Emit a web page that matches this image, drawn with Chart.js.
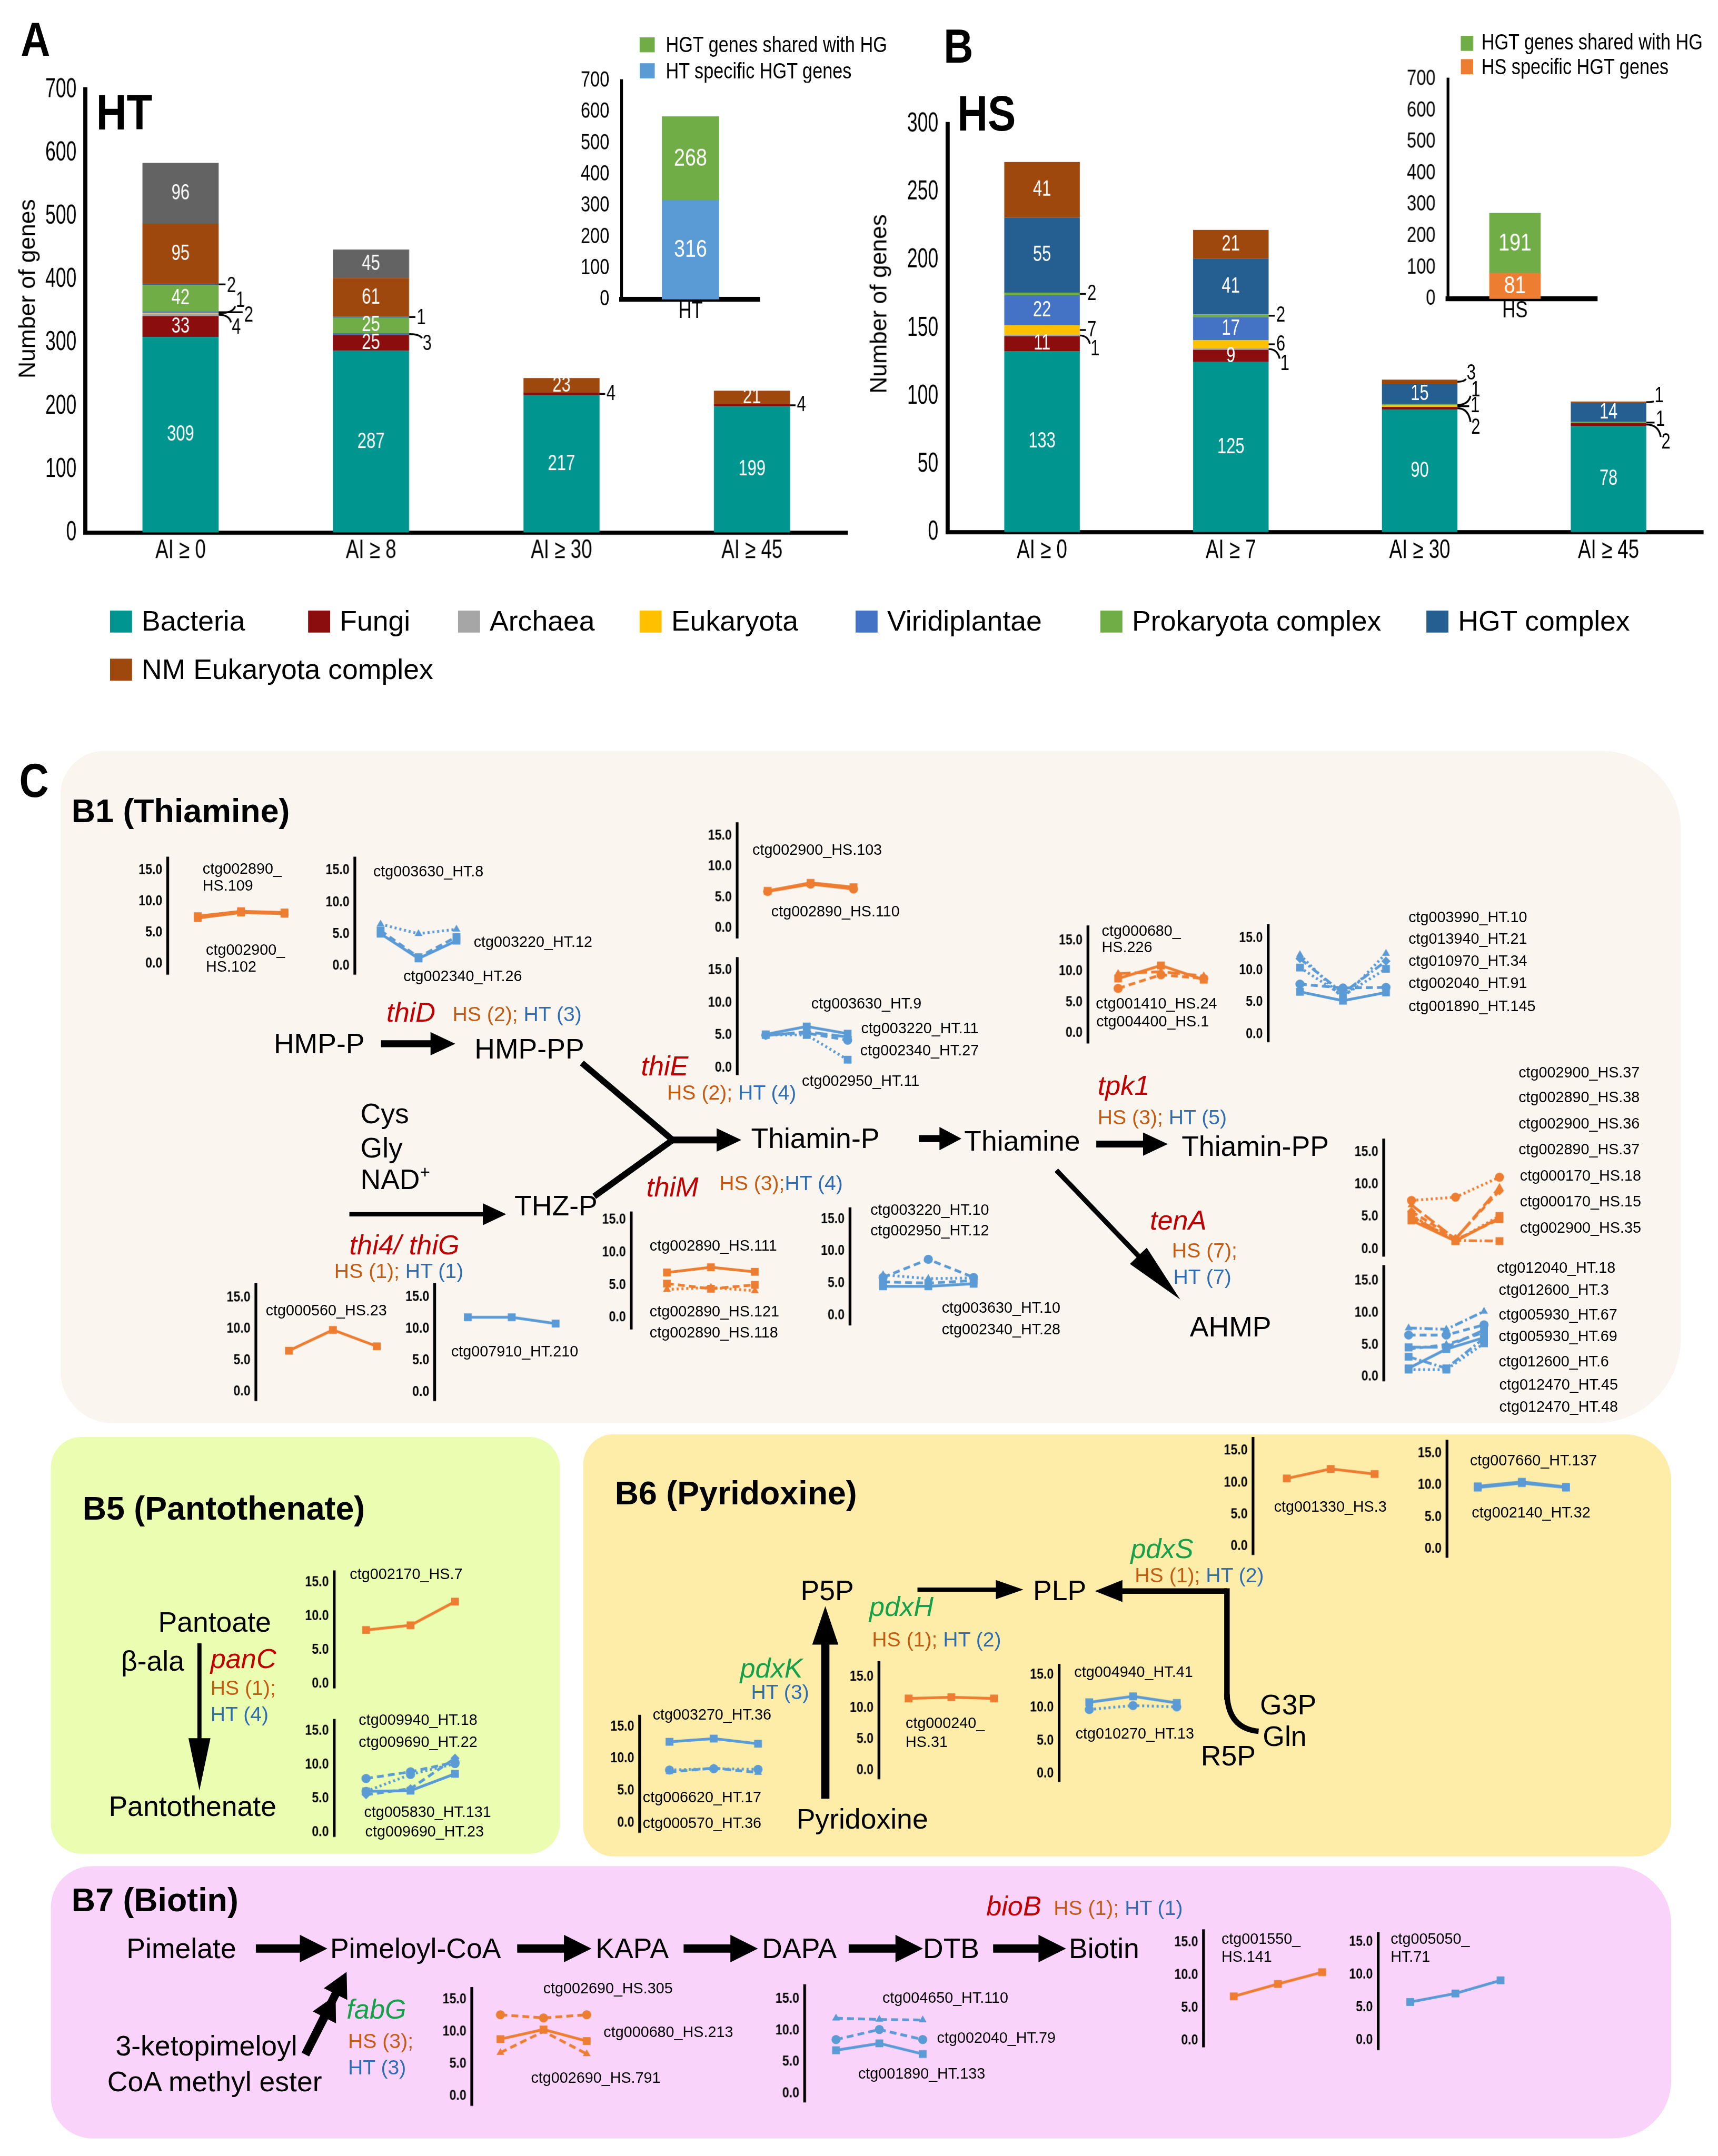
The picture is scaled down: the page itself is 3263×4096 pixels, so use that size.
<!DOCTYPE html>
<html><head><meta charset="utf-8">
<script src="https://cdn.jsdelivr.net/npm/chart.js@4.4.1/dist/chart.umd.min.js"></script>
<style>
html,body{margin:0;padding:0;background:#fff;overflow:hidden}
body{width:3263px;height:4096px;position:relative}
#root{position:absolute;left:0;top:0;width:1249px;height:1568px;transform-origin:0 0;font-family:'Liberation Sans',Arial,sans-serif;color:#000}
.t{position:absolute;white-space:nowrap;line-height:1;transform:translateY(-50%)}
.bx{position:absolute}
canvas{position:absolute}
.cmp{font-size:20.5px}
.eR{font-size:20px;font-style:italic;color:#C00000}
.eG{font-size:20px;font-style:italic;color:#17A04A}
.cnt{font-size:15px}
.o{color:#C55A11}.b{color:#2E6DB4}
.lab{font-size:11px}
.ttl{font-size:24px;font-weight:bold}
.pl{font-size:35px;font-weight:bold;transform:translateY(-50%) scaleX(0.85);transform-origin:0 50%}
.big{font-size:36px;font-weight:bold;transform:translateY(-50%) scaleX(0.85);transform-origin:0 50%}
.leg{font-size:20.5px}
.ileg{font-size:16px;transform:translateY(-50%) scaleX(0.82);transform-origin:0 50%}
.axt{font-size:17px;position:absolute;white-space:nowrap;line-height:1;transform:translate(-50%,-50%) rotate(-90deg)}
</style></head>
<body><div id="root"></div>
<script>
const S = 3263 / 1249;
const FAM = "'Liberation Sans',Arial,sans-serif";

// ================= DATA =================
const seriesNames = ['Bacteria','Fungi','Archaea','Eukaryota','Viridiplantae','Prokaryota complex','HGT complex','NM Eukaryota complex'];
const seriesColors = ['#00958F','#8B0D0D','#A6A6A6','#FFC000','#4472C4','#70AD47','#255E91','#9E480E'];
const otherColor = '#636363';

// Panel A (HT)
const htCategories = ['AI ≥ 0','AI ≥ 8','AI ≥ 30','AI ≥ 45'];
const htBacteria = [309,287,217,199];
const htFungi = [33,25,4,4];
const htArchaea = [4,0,0,0];
const htEukaryota = [1,0,0,0];
const htViridiplantae = [2,3,0,0];
const htProkaryotaComplex = [42,25,0,0];
const htHGTComplex = [2,1,0,0];
const htNMEukaryotaComplex = [95,61,23,21];
const htOther = [96,45,0,0];

// Panel B (HS)
const hsCategories = ['AI ≥ 0','AI ≥ 7','AI ≥ 30','AI ≥ 45'];
const hsBacteria = [133,125,90,78];
const hsFungi = [11,9,2,2];
const hsArchaea = [1,1,0,0];
const hsEukaryota = [7,6,1,0];
const hsViridiplantae = [22,17,0,0];
const hsProkaryotaComplex = [2,2,1,1];
const hsHGTComplex = [55,41,15,14];
const hsNMEukaryotaComplex = [41,21,3,1];

// Insets
const insetHTLabel = ['HT'];
const insetHTSpecific = [316];
const insetHTShared = [268];
const insetHSLabel = ['HS'];
const insetHSSpecific = [81];
const insetHSShared = [191];
const insetNames = ['HGT genes shared with HG','HT specific HGT genes','HS specific HGT genes'];

// Panel C expression profiles (3 points each)
const miniTicks = [0,5,10,15];
const thiD_HS_names = ['ctg002890_HS.109','ctg002900_HS.102'];
const thiD_HS_vals = [[7.6,8.4,8.2],[7.3,8.2,8.0]];
const thiD_HT_names = ['ctg003630_HT.8','ctg003220_HT.12','ctg002340_HT.26'];
const thiD_HT_vals = [[6.5,5.0,5.7],[5.5,1.3,4.5],[5.0,1.1,3.9]];
const thiE_HS_names = ['ctg002900_HS.103','ctg002890_HS.110'];
const thiE_HS_vals = [[6.0,7.3,6.6],[5.9,7.1,6.3]];
const thiE_HT_names = ['ctg003630_HT.9','ctg003220_HT.11','ctg002340_HT.27','ctg002950_HT.11'];
const thiE_HT_vals = [[5.1,6.3,5.2],[5.0,5.3,4.2],[4.9,5.5,4.7],[5.0,5.0,1.2]];
const tpk1_HS_names = ['ctg000680_HS.226','ctg001410_HS.24','ctg004400_HS.1'];
const tpk1_HS_vals = [[9.6,9.9,9.2],[8.8,10.9,8.6],[7.2,9.4,8.8]];
const tpk1_HT_names = ['ctg003990_HT.10','ctg013940_HT.21','ctg010970_HT.34','ctg002040_HT.91','ctg001890_HT.145'];
const tpk1_HT_vals = [[12.4,5.6,12.6],[10.4,6.0,10.2],[11.8,6.4,11.4],[7.8,7.2,7.3],[6.6,5.2,6.5]];
const tenA_HS_names = ['ctg002900_HS.37','ctg002890_HS.38','ctg002900_HS.36','ctg002890_HS.37','ctg000170_HS.18','ctg000170_HS.15','ctg002900_HS.35'];
const tenA_HS_vals = [[7.5,8.0,11.1],[6.8,1.5,9.5],[5.2,1.2,5.1],[5.8,1.6,9.0],[4.4,1.2,4.8],[4.8,1.4,4.6],[5.0,1.3,1.2]];
const tenA_HT_names = ['ctg012040_HT.18','ctg012600_HT.3','ctg005930_HT.67','ctg005930_HT.69','ctg012600_HT.6','ctg012470_HT.45','ctg012470_HT.48'];
const tenA_HT_vals = [[7.6,7.4,10.2],[6.5,6.5,8.1],[4.6,4.6,7.3],[4.3,5.0,6.9],[1.3,4.3,6.1],[3.1,1.3,6.0],[1.1,1.1,5.2]];
const thiG_HS_names = ['ctg000560_HS.23'];
const thiG_HS_vals = [[6.5,9.8,7.2]];
const thiG_HT_names = ['ctg007910_HT.210'];
const thiG_HT_vals = [[11.8,11.8,10.8]];
const thiM_HS_names = ['ctg002890_HS.111','ctg002890_HS.121','ctg002890_HS.118'];
const thiM_HS_vals = [[6.9,7.7,7.0],[5.2,4.4,5.0],[4.3,4.6,4.1]];
const thiM_HT_names = ['ctg003220_HT.10','ctg002950_HT.12','ctg003630_HT.10','ctg002340_HT.28'];
const thiM_HT_vals = [[5.9,8.7,5.9],[6.3,5.7,5.8],[4.5,4.5,4.9],[5.2,5.0,5.4]];
const panC_HS_names = ['ctg002170_HS.7'];
const panC_HS_vals = [[7.9,8.6,12.1]];
const panC_HT_names = ['ctg009940_HT.18','ctg009690_HT.22','ctg005830_HT.131','ctg009690_HT.23'];
const panC_HT_vals = [[7.9,8.9,10.3],[6.0,8.5,10.1],[6.0,6.1,8.6],[5.5,6.4,10.9]];
const pdxS_HS_names = ['ctg001330_HS.3'];
const pdxS_HS_vals = [[10.6,12.1,11.3]];
const pdxS_HT_names = ['ctg007660_HT.137','ctg002140_HT.32'];
const pdxS_HT_vals = [[9.8,10.5,9.7],[9.6,10.3,9.6]];
const pdxK_HT_names = ['ctg003270_HT.36','ctg006620_HT.17','ctg000570_HT.36'];
const pdxK_HT_vals = [[12.6,13.1,12.3],[8.2,8.4,8.3],[7.9,8.5,7.8]];
const pdxH_HS_names = ['ctg000240_HS.31'];
const pdxH_HS_vals = [[11.5,11.7,11.5]];
const pdxH_HT_names = ['ctg004940_HT.41','ctg010270_HT.13'];
const pdxH_HT_vals = [[10.8,11.7,10.7],[9.7,10.3,10.1]];
const fabG_HS_names = ['ctg002690_HS.305','ctg000680_HS.213','ctg002690_HS.791'];
const fabG_HS_vals = [[12.6,12.1,12.6],[8.8,10.3,8.5],[6.7,10.0,6.5]];
const fabG_HT_names = ['ctg004650_HT.110','ctg002040_HT.79','ctg001890_HT.133'];
const fabG_HT_vals = [[11.9,11.7,11.6],[8.5,10.1,8.5],[6.8,7.9,6.2]];
const bioB_HS_names = ['ctg001550_HS.141'];
const bioB_HS_vals = [[6.7,8.6,10.4]];
const bioB_HT_names = ['ctg005050_HT.71'];
const bioB_HT_vals = [[5.8,7.1,9.1]];

// ================= LAYOUT (reference px / 3.407) =================
const ORANGE = '#ED7D31', BLUE = '#5B9BD5';
const DASH = { s: [], dsh: [5,3], dot: [1.5,2], dd: [6,2,1.5,2], ld: [9,3] };
const root = document.getElementById('root');
root.style.transform = 'scale(' + S + ')';

function T(x, y, html, cls) {
  const d = document.createElement('div');
  d.className = 't ' + (cls || '');
  d.style.left = x + 'px'; d.style.top = y + 'px';
  d.innerHTML = html; root.appendChild(d); return d;
}
function box(x, y, w, h, color, radius) {
  const d = document.createElement('div');
  d.className = 'bx';
  Object.assign(d.style, { left: x + 'px', top: y + 'px', width: w + 'px', height: h + 'px', background: color, borderRadius: radius || '0' });
  root.appendChild(d); return d;
}
function makeCanvas(left, top, w, h) {
  const c = document.createElement('canvas');
  c.width = Math.round(w); c.height = Math.round(h);
  c.style.left = left + 'px'; c.style.top = top + 'px';
  root.appendChild(c); return c;
}
function sqText(ctx, txt, x, y, font, align, sx) {
  ctx.save(); ctx.translate(x, y); ctx.scale(sx, 1);
  ctx.font = font; ctx.textAlign = align; ctx.textBaseline = 'middle';
  ctx.fillText(txt, 0, 0); ctx.restore();
}

// background panels
[[44,546,1178,489,'#FAF5EE','32px 58px 62px 38px'],
 [37,1045,370,303,'#EBFDB1','22px'],
 [424,1043,791,307,'#FDEDA8','22px 34px 26px 22px'],
 [37,1357,1178,198,'#FAD3FB','30px 42px 42px 30px']].forEach(p => box(...p));

// arrows (SVG)
const svgNS = 'http://www.w3.org/2000/svg';
const svg = document.createElementNS(svgNS, 'svg');
svg.setAttribute('width', 1249); svg.setAttribute('height', 1568);
Object.assign(svg.style, { position: 'absolute', left: '0', top: '0', overflow: 'visible' });
root.appendChild(svg);
function arrowPts(x1, y1, x2, y2, w, L, H) {
  const dx = x2 - x1, dy = y2 - y1, len = Math.hypot(dx, dy);
  const ux = dx / len, uy = dy / len, nx = -uy, ny = ux;
  const bx = x2 - ux * L, by = y2 - uy * L;
  return [[x1 + nx * w / 2, y1 + ny * w / 2], [bx + nx * w / 2, by + ny * w / 2], [bx + nx * H, by + ny * H], [x2, y2],
          [bx - nx * H, by - ny * H], [bx - nx * w / 2, by - ny * w / 2], [x1 - nx * w / 2, y1 - ny * w / 2]];
}
function svgEl(tag, attrs) { const e = document.createElementNS(svgNS, tag); for (const k in attrs) e.setAttribute(k, attrs[k]); svg.appendChild(e); return e; }
const arrows = [
  [277,759,331,759,5,18,8.5],
  [486,829,539,829,5,18,8.5],
  [254,883,368,883,3.2,17,8],
  [668,828,699,828,5,16,8.5],
  [797,832,849,832,5,18,8.5],
  [768,851,858,945,3.5,44,8.5],
  [145,1195,145,1302,3,38,8],
  [600,1308,600,1168,6,28,9.5],
  [667,1156,744,1156,3,20,7],
  [892,1157,796,1157,4,20,8],
  [186,1417,238,1417,6,20,10],[376,1417,430,1417,6,20,10],[497,1417,551,1417,6,20,10],[617,1417,671,1417,6,20,10],[722,1417,775,1417,6,20,10],
  [222,1494,252,1434,6,18,9.5],[222,1494,244,1451,6,18,9.5]
];
arrows.forEach(a => svgEl('polygon', { points: arrowPts(...a).map(p => p.join(',')).join(' '), fill: '#000' }));
svgEl('polyline', { points: '423,773 489,829 432,870', fill: 'none', stroke: '#000', 'stroke-width': 4.5, 'stroke-linejoin': 'miter' });
svgEl('line', { x1: 892, y1: 1236, x2: 892, y2: 1155, stroke: '#000', 'stroke-width': 4 });
svgEl('path', { d: 'M892,1232 Q893,1257 915,1259', fill: 'none', stroke: '#000', 'stroke-width': 4 });

// ---------- plugins ----------
const barLabelPlugin = {
  id: 'barLabels',
  afterDatasetsDraw(chart, args, opts) {
    const ctx = chart.ctx;
    ctx.save();
    chart.data.datasets.forEach((ds, i) => {
      chart.getDatasetMeta(i).data.forEach((bar, j) => {
        const raw = ds.data[j];
        const v = (raw && typeof raw === 'object') ? raw.y : raw;
        if (v >= opts.minInside) {
          ctx.fillStyle = '#fff';
          sqText(ctx, String(v), bar.x, (bar.y + bar.base) / 2, opts.insideFont, 'center', opts.sx);
        }
      });
    });
    (opts.notes || []).forEach(n => {
      const bar = chart.getDatasetMeta(n[0]).data[n[1]];
      const v = chart.data.datasets[n[0]].data[n[1]];
      const xr = bar.x + bar.width / 2, yc = (bar.y + bar.base) / 2;
      const tx = xr + n[2], ty = yc + n[3];
      ctx.strokeStyle = '#000'; ctx.lineWidth = 1.3;
      ctx.beginPath(); ctx.moveTo(xr, yc);
      if (Math.abs(n[3]) < 2.5) ctx.lineTo(tx - 1, yc);
      else ctx.quadraticCurveTo(tx - 2, yc, tx - 0.5, ty - Math.sign(n[3]) * 4);
      ctx.stroke();
      ctx.fillStyle = '#000';
      sqText(ctx, String(v), tx, ty, opts.noteFont, 'left', opts.sx);
    });
    ctx.restore();
  }
};
const sqTicksPlugin = {
  id: 'sqTicks',
  afterDraw(chart, args, o) {
    const ctx = chart.ctx;
    ctx.save(); ctx.fillStyle = '#000';
    if (o.y) {
      const s = chart.scales.y;
      s.ticks.forEach(t => sqText(ctx, o.y.fmt ? o.y.fmt(t.value) : String(t.value), s.right - o.y.pad, s.getPixelForValue(t.value), o.y.font, 'right', o.y.sx));
    }
    if (o.x) {
      const s = chart.scales.x;
      s.ticks.forEach((t, i) => sqText(ctx, o.x.labels[i], s.getPixelForTick(i), s.top + o.x.pad, o.x.font, 'center', o.x.sx));
    }
    ctx.restore();
  }
};

// ---------- main stacked bar charts ----------
function mainBars(cv, area, labels, sets, yMax, step, notes, tickPad) {
  const c = makeCanvas(cv[0], cv[1], cv[2], cv[3]);
  const W = c.width, H = c.height, xAxisH = 30;
  new Chart(c, {
    type: 'bar',
    data: { labels, datasets: sets.map(s => ({ label: s.name, data: s.data, backgroundColor: s.color, borderWidth: 0, barPercentage: 0.4, categoryPercentage: 1 })) },
    options: {
      animation: false, responsive: false, devicePixelRatio: S,
      layout: { padding: { left: 0, top: area[1] - cv[1], right: cv[0] + W - area[2], bottom: cv[1] + H - area[3] - xAxisH } },
      plugins: { legend: { display: false }, tooltip: { enabled: false },
        barLabels: { minInside: 9, insideFont: '16px ' + FAM, noteFont: '16px ' + FAM, sx: 0.74, notes },
        sqTicks: { y: { font: '20px ' + FAM, sx: 0.68, pad: tickPad }, x: { font: '19px ' + FAM, sx: 0.74, pad: 13.5, labels } } },
      scales: {
        x: { stacked: true, grid: { display: false }, border: { display: true, width: 3, color: '#000' },
             ticks: { display: false }, afterFit: s => { s.height = xAxisH; } },
        y: { stacked: true, min: 0, max: yMax, grid: { display: false }, border: { display: true, width: 3, color: '#000' },
             ticks: { display: false, stepSize: step }, afterFit: s => { s.width = area[0] - cv[0]; } }
      }
    },
    plugins: [barLabelPlugin, sqTicksPlugin]
  });
}
const htSets = [htBacteria, htFungi, htArchaea, htEukaryota, htViridiplantae, htProkaryotaComplex, htHGTComplex, htNMEukaryotaComplex]
  .map((d, i) => ({ name: seriesNames[i], data: d, color: seriesColors[i] })).concat([{ name: 'Other', data: htOther, color: otherColor }]);
const hsSets = [hsBacteria, hsFungi, hsArchaea, hsEukaryota, hsViridiplantae, hsProkaryotaComplex, hsHGTComplex, hsNMEukaryotaComplex]
  .map((d, i) => ({ name: seriesNames[i], data: d, color: seriesColors[i] }));
const notesA = [[6,0,6,1],[3,0,12.5,-9],[4,0,18.5,2.4],[2,0,9.5,9.5],[6,1,5.5,1],[4,1,9.8,7],[1,2,5,0],[1,3,5,0]];
const notesB = [[2,0,7.8,10],[3,0,5.5,0],[5,0,5.5,0],[2,1,8.5,11],[3,1,5.5,0],[5,1,5.5,0],[1,2,10,14],[3,2,9.5,0],[5,2,10,-10.6],[7,2,6.7,-6],[7,3,6,-4.5],[5,3,7,-2],[1,3,11,13]];
mainBars([0,45,630,375], [62,65,615.6,387], htCategories, htSets, 700, 100, notesA, 6.4);
mainBars([630,45,619,375], [688.9,90,1238,386.7], hsCategories, hsSets, 300, 50, notesB, 6.7);

// ---------- insets ----------
function inset(cv, area, label, specific, shared, specColor, xMax, thick) {
  const c = makeCanvas(cv[0], cv[1], cv[2], cv[3]);
  const W = c.width, H = c.height, xAxisH = 14;
  new Chart(c, {
    type: 'bar',
    data: { datasets: [
      { label: 'specific', data: specific.map((v, i) => ({ x: i, y: v })), backgroundColor: specColor, borderWidth: 0, barThickness: thick },
      { label: 'shared', data: shared.map((v, i) => ({ x: i, y: v })), backgroundColor: '#70AD47', borderWidth: 0, barThickness: thick } ] },
    options: {
      animation: false, responsive: false, devicePixelRatio: S,
      layout: { padding: { left: 0, top: area[1] - cv[1], right: cv[0] + W - area[2], bottom: cv[1] + H - area[3] - xAxisH } },
      plugins: { legend: { display: false }, tooltip: { enabled: false },
        barLabels: { minInside: 9, insideFont: '18px ' + FAM, noteFont: '16px ' + FAM, sx: 0.8, notes: [] },
        sqTicks: { y: { font: '16px ' + FAM, sx: 0.78, pad: 9 }, x: { font: '17px ' + FAM, sx: 0.78, pad: 9, labels: label } } },
      scales: {
        x: { type: 'linear', min: -0.5, max: xMax, stacked: true, grid: { display: false }, border: { display: true, width: 3.5, color: '#000' },
             afterBuildTicks: s => { s.ticks = label.map((l, i) => ({ value: i })); },
             ticks: { display: false }, afterFit: s => { s.height = xAxisH; } },
        y: { stacked: true, min: 0, max: 700, grid: { display: false }, border: { display: true, width: 2, color: '#000' },
             ticks: { display: false, stepSize: 100 }, afterFit: s => { s.width = area[0] - cv[0]; } }
      }
    },
    plugins: [barLabelPlugin, sqTicksPlugin]
  });
}
inset([400,40,160,200], [452,58.5,552,217.5], insetHTLabel, insetHTSpecific, insetHTShared, '#5B9BD5', 0.5, 41);
inset([1000,40,170,200], [1052.6,57.5,1161,217.1], insetHSLabel, insetHSSpecific, insetHSShared, '#ED7D31', 0.75, 36.7);

// inset legends
box(465,27,10.5,11,'#70AD47'); T(484,32.5,insetNames[0],'ileg');
box(465,46,10.5,11,'#5B9BD5'); T(484,52,insetNames[1],'ileg');
box(1062,25.8,9,11,'#70AD47'); T(1077,31,insetNames[0],'ileg');
box(1062,43.4,9,11,'#ED7D31'); T(1077,49,insetNames[2],'ileg');

// main legend
const legendPos = [[80,452],[224,452],[333,452],[465,452],[622,452],[800,452],[1037,452],[80,487]];
seriesNames.forEach((n, i) => { const [x, y] = legendPos[i]; box(x, y - 8, 15.5, 16, seriesColors[i]); T(x + 23, y, n, 'leg'); });

// panel labels / axis titles
[[15,28,'A','pl'],[686,33,'B','pl'],[14,567,'C','pl'],[70,82,'HT','big'],[696,83,'HS','big']].forEach(a => T(...a));
[[20,210],[639,221]].forEach(([x, y]) => { const d = document.createElement('div'); d.className = 'axt'; d.style.left = x + 'px'; d.style.top = y + 'px'; d.textContent = 'Number of genes'; root.appendChild(d); });

// ---------- mini line charts ----------
function mini(L, names, vals) {
  const axW = 34;
  const left = L.ax - axW, top = L.top - 6;
  const c = makeCanvas(left, top, L.px[1] + 12 - left, L.bot - L.top + 12);
  const right = left + c.width, bottom = top + c.height - 6;
  const ppu = (L.y0 - L.y15) / 15;
  const yMax = 15 + (L.y15 - L.top) / ppu;
  const yMin = -(bottom - L.y0) / ppu;
  const d = (L.px[1] - L.px[0]) / 2;
  const xMin = -(L.px[0] - L.ax) / d;
  const xMax = 2 + (right - L.px[1]) / d;
  new Chart(c, {
    type: 'line',
    data: { datasets: vals.map((v, i) => {
      const st = (L.st && L.st[i]) || ['s', 'rect'];
      return { label: names[i], data: v.map((y, k) => ({ x: k, y })), borderColor: L.c, backgroundColor: L.c,
        pointBackgroundColor: L.c, pointBorderColor: L.c, borderWidth: 2, borderDash: DASH[st[0]], pointStyle: st[1],
        pointRadius: st[1] === 'rect' ? 4 : 3.3, pointBorderWidth: 0, tension: 0, clip: false };
    }) },
    options: {
      animation: false, responsive: false, devicePixelRatio: S,
      layout: { padding: { left: 0, right: 0, top: 6, bottom: 6 } },
      plugins: { legend: { display: false }, tooltip: { enabled: false },
        sqTicks: { y: { font: 'bold 10.8px ' + FAM, sx: 0.82, pad: 4, fmt: v => Number(v).toFixed(1) } } },
      scales: {
        x: { type: 'linear', min: xMin, max: xMax, display: false },
        y: { min: yMin, max: yMax, grid: { display: false }, border: { display: true, width: 2, color: '#000' },
             afterBuildTicks: s => { s.ticks = miniTicks.map(v => ({ value: v })); },
             afterFit: s => { s.width = axW; }, ticks: { display: false } }
      }
    },
    plugins: [sqTicksPlugin]
  });
  L.lab.forEach(([x, y, idx, part]) => {
    const n = names[idx], cut = n.indexOf('_') + 1;
    T(x, y, part === 1 ? n.slice(0, cut) : part === 2 ? n.slice(cut) : n, 'lab');
  });
}
const minis = [
  [{ ax:122.2, top:623.7, bot:707.4, y15:632.5, y0:700, px:[144.8,210.5], c:ORANGE, st:[['s','rect'],['s','rect']],
     lab:[[147.3,632,0,1],[147.3,644.3,0,2],[149.7,690.7,1,1],[149.7,703.4,1,2]] }, thiD_HS_names, thiD_HS_vals],
  [{ ax:257.5, top:623.7, bot:707.9, y15:632.5, y0:701.5, px:[277,334.7], c:BLUE, st:[['dot','triangle'],['dsh','rect'],['s','rect']],
     lab:[[271.4,633.5,0,0],[344.4,685.4,1,0],[293.3,710.3,2,0]] }, thiD_HT_names, thiD_HT_vals],
  [{ ax:536, top:598.8, bot:682, y15:607.5, y0:674.3, px:[559,624], c:ORANGE, st:[['s','rect'],['s','circle']],
     lab:[[547,617.6,0,0],[560.7,662.8,1,0]] }, thiE_HS_names, thiE_HS_vals],
  [{ ax:536, top:697, bot:780.8, y15:705.3, y0:776, px:[557.5,619.5], c:BLUE, st:[['s','rect'],['dsh','circle'],['ld','rectRot'],['dot','rect']],
     lab:[[589.8,730,0,0],[626,747.7,1,0],[625.4,764,2,0],[583,786,3,0]] }, thiE_HT_names, thiE_HT_vals],
  [{ ax:791.4, top:674, bot:758, y15:683.6, y0:750.9, px:[814.2,879], c:ORANGE, st:[['ld','triangle'],['s','rect'],['dsh','circle']],
     lab:[[801,676.5,0,1],[801,688.8,0,2],[796.7,730.4,1,0],[797,743,2,0]] }, tpk1_HS_names, tpk1_HS_vals],
  [{ ax:922, top:673, bot:757, y15:682.2, y0:751.6, px:[945.9,1010.9], c:BLUE, st:[['dot','triangle'],['dot','rect'],['dd','rectRot'],['dsh','circle'],['s','rect']],
     lab:[[1024,666.7,0,0],[1024,682.9,1,0],[1024,698.6,2,0],[1024,714.7,3,0],[1024,731.9,4,0]] }, tpk1_HT_names, tpk1_HT_vals],
  [{ ax:1006.4, top:828.5, bot:912, y15:837.2, y0:907.4, px:[1027.4,1094], c:ORANGE, st:[['dot','circle'],['ld','triangle'],['dot','rect'],['dsh','rectRot'],['s','rect'],['dsh','rect'],['dd','rect']],
     lab:[[1104,779.5,0,0],[1104,798.4,1,0],[1104,816.5,2,0],[1104,836.3,3,0],[1105,855.2,4,0],[1105,874,5,0],[1105,893,6,0]] }, tenA_HS_names, tenA_HS_vals],
  [{ ax:1006.4, top:920.7, bot:1004, y15:931, y0:1000.7, px:[1025.2,1082.5], c:BLUE, st:[['dd','triangle'],['dsh','circle'],['ld','rect'],['dsh','triangle'],['s','rect'],['dd','rect'],['dot','rect']],
     lab:[[1088.2,921.5,0,0],[1089.6,937.9,1,0],[1089.6,955.9,2,0],[1089.6,972.3,3,0],[1089.6,990.4,4,0],[1090,1006.7,5,0],[1090,1023.1,6,0]] }, tenA_HT_names, tenA_HT_vals],
  [{ ax:186.2, top:934.3, bot:1018, y15:943.6, y0:1012, px:[211.1,277.4], c:ORANGE, lab:[[193.2,952.9,0,0]] }, thiG_HS_names, thiG_HS_vals],
  [{ ax:315.6, top:934, bot:1018, y15:943.1, y0:1012, px:[340.5,406.8], c:BLUE, lab:[[328,983.2,0,0]] }, thiG_HT_names, thiG_HT_vals],
  [{ ax:458.7, top:882, bot:965.6, y15:886.9, y0:957.8, px:[485.6,552], c:ORANGE, st:[['s','rect'],['dsh','rect'],['dot','triangle']],
     lab:[[472.3,906,0,0],[472.3,953.9,1,0],[472.3,969,2,0]] }, thiM_HS_names, thiM_HS_vals],
  [{ ax:618.3, top:878.6, bot:962.7, y15:885.9, y0:955.8, px:[643.2,711.6], c:BLUE, st:[['dsh','circle'],['dot','triangle'],['s','rect'],['dsh','rect']],
     lab:[[632.8,879.6,0,0],[632.8,894.7,1,0],[684.7,951,2,0],[684.7,967.1,3,0]] }, thiM_HT_names, thiM_HT_vals],
  [{ ax:243, top:1142.8, bot:1226.4, y15:1150.2, y0:1223.7, px:[266.9,334], c:ORANGE, lab:[[254.3,1144.8,0,0]] }, panC_HS_names, panC_HS_vals],
  [{ ax:243, top:1251.3, bot:1335.6, y15:1258.7, y0:1332.2, px:[266.9,334], c:BLUE, st:[['dsh','circle'],['dot','circle'],['s','rect'],['dsh','rectRot']],
     lab:[[260.8,1251.3,0,0],[260.8,1266.8,1,0],[264.7,1318,2,0],[265.5,1331.5,3,0]] }, panC_HT_names, panC_HT_vals],
  [{ ax:910.8, top:1045.9, bot:1130, y15:1054.7, y0:1123.7, px:[936.2,1002.5], c:ORANGE, lab:[[926.2,1096.3,0,0]] }, pdxS_HS_names, pdxS_HS_vals],
  [{ ax:1052.1, top:1047.5, bot:1131, y15:1056.1, y0:1125.6, px:[1075.3,1142], c:BLUE, st:[['s','rect'],['s','rect']],
     lab:[[1068.7,1061.5,0,0],[1070,1099.7,1,0]] }, pdxS_HT_names, pdxS_HT_vals],
  [{ ax:465, top:1247.9, bot:1332, y15:1255.3, y0:1325, px:[487.5,554.4], c:BLUE, st:[['s','rect'],['dot','circle'],['dsh','triangle']],
     lab:[[474.5,1247.4,0,0],[467.3,1306.6,1,0],[467.3,1326,2,0]] }, pdxK_HT_names, pdxK_HT_vals],
  [{ ax:638.9, top:1208.8, bot:1292.4, y15:1219.1, y0:1286.6, px:[661.3,725.9], c:ORANGE, lab:[[658.4,1252.8,0,1],[658.4,1267,0,2]] }, pdxH_HS_names, pdxH_HS_vals],
  [{ ax:769.9, top:1210.8, bot:1294.4, y15:1217.6, y0:1289, px:[792.6,858.7], c:BLUE, st:[['s','rect'],['dot','circle']],
     lab:[[781,1216.2,0,0],[781.9,1260.6,1,0]] }, pdxH_HT_names, pdxH_HT_vals],
  [{ ax:343, top:1445.5, bot:1530.2, y15:1453.4, y0:1523.3, px:[364.6,429.9], c:ORANGE, st:[['dsh','circle'],['s','rect'],['dsh','triangle']],
     lab:[[394.9,1445.5,0,0],[438.8,1477.8,1,0],[386,1510.6,2,0]] }, fabG_HS_names, fabG_HS_vals],
  [{ ax:585.1, top:1444, bot:1528.2, y15:1453.4, y0:1521.8, px:[608.7,674.2], c:BLUE, st:[['dsh','triangle'],['dsh','circle'],['s','rect']],
     lab:[[641.5,1452.9,0,0],[681.2,1482.2,1,0],[623.9,1507.6,2,0]] }, fabG_HT_names, fabG_HT_vals],
  [{ ax:874.7, top:1403.5, bot:1487.7, y15:1411.8, y0:1482.8, px:[897.5,964.3], c:ORANGE, lab:[[888,1409.8,0,1],[888,1423,0,2]] }, bioB_HS_names, bioB_HS_vals],
  [{ ax:1002.3, top:1406.4, bot:1490.1, y15:1412.3, y0:1483.7, px:[1026.4,1094.6], c:BLUE, lab:[[1011,1409.8,0,1],[1011,1423,0,2]] }, bioB_HT_names, bioB_HT_vals]
];
minis.forEach(m => mini(m[0], m[1], m[2]));

// ---------- pathway texts ----------
const HSHT = (a, b, sep) => (a ? '<span class="o">HS (' + a + ');</span>' : '') + (a && b ? (sep === undefined ? ' ' : sep) : '') + (b ? '<span class="b">HT (' + b + ')</span>' : '');
const pathTexts = [
  [52,590,'B1 (Thiamine)','ttl'],
  [199,759,'HMP-P','cmp'],[345,763,'HMP-PP','cmp'],
  [281,736,'thiD','eR'],[329,737,HSHT(2,3),'cnt'],
  [466,775,'thiE','eR'],[485,794,HSHT(2,4),'cnt'],
  [262,810,'Cys','cmp'],[262,835,'Gly','cmp'],[262,858,'NAD<span style="font-size:62%;position:relative;top:-0.6em">+</span>','cmp'],
  [374,877,'THZ-P','cmp'],
  [254,905,'thi4/ thiG','eR'],[243,924,HSHT(1,1),'cnt'],
  [470,863,'thiM','eR'],[523,860,HSHT(3,4,''),'cnt'],
  [546,828,'Thiamin-P','cmp'],[701,830,'Thiamine','cmp'],[859,834,'Thiamin-PP','cmp'],
  [798,789,'tpk1','eR'],[798,812,HSHT(3,5),'cnt'],
  [836,887,'tenA','eR'],[852,909,HSHT(7,0),'cnt'],[853,928,HSHT(0,7),'cnt'],
  [865,965,'AHMP','cmp'],
  [60,1097,'B5 (Pantothenate)','ttl'],
  [115,1180,'Pantoate','cmp'],[88,1208,'β-ala','cmp'],
  [153,1206,'panC','eR'],[153,1227,HSHT(1,0),'cnt'],[153,1246,HSHT(0,4),'cnt'],
  [79,1314,'Pantothenate','cmp'],
  [447,1086,'B6 (Pyridoxine)','ttl'],
  [582,1157,'P5P','cmp'],[751,1157,'PLP','cmp'],
  [632,1168,'pdxH','eG'],[634,1192,HSHT(1,2),'cnt'],
  [538,1213,'pdxK','eG'],[546,1230,HSHT(0,3),'cnt'],
  [579,1323,'Pyridoxine','cmp'],
  [822,1126,'pdxS','eG'],[825,1145,HSHT(1,2),'cnt'],
  [916,1240,'G3P','cmp'],[918,1263,'Gln','cmp'],[873,1277,'R5P','cmp'],
  [52,1382,'B7 (Biotin)','ttl'],
  [92,1417,'Pimelate','cmp'],[240,1417,'Pimeloyl-CoA','cmp'],[433,1417,'KAPA','cmp'],[554,1417,'DAPA','cmp'],[671,1417,'DTB','cmp'],[777,1417,'Biotin','cmp'],
  [717,1386,'bioB','eR'],[766,1387,HSHT(1,1),'cnt'],
  [252,1461,'fabG','eG'],[253,1484,HSHT(3,0),'cnt'],[253,1503,HSHT(0,3),'cnt'],
  [84,1488,'3-ketopimeloyl','cmp'],[78,1514,'CoA methyl ester','cmp']
];
pathTexts.forEach(a => T(...a));
</script>
</body></html>
